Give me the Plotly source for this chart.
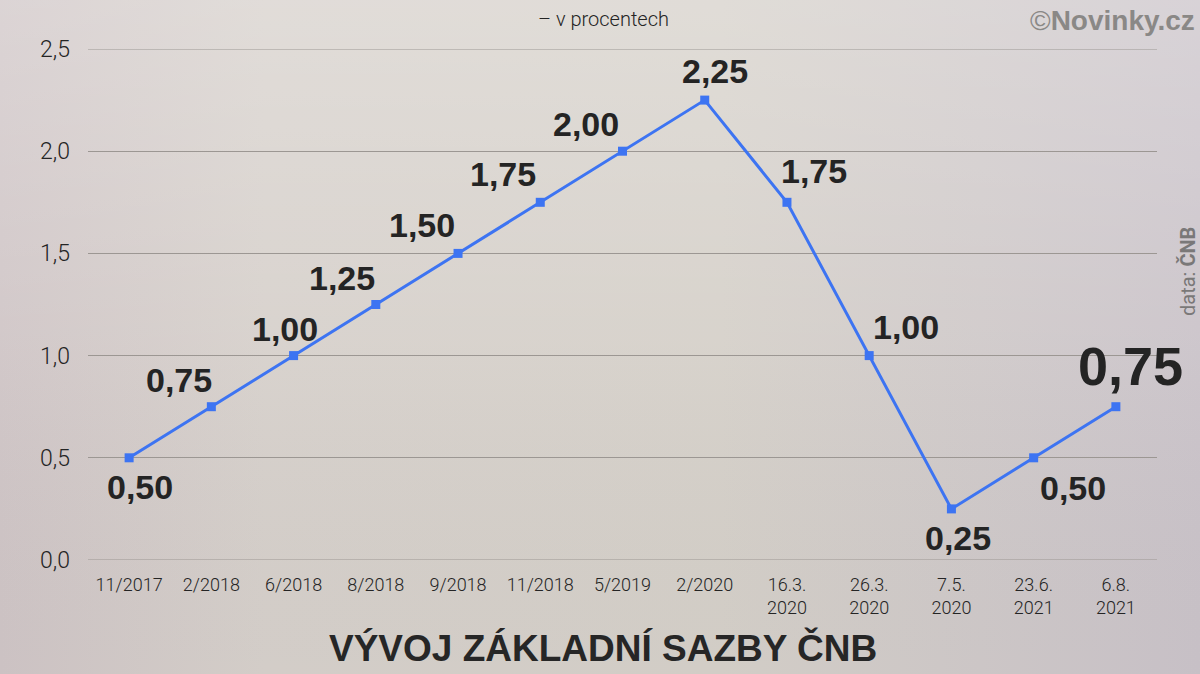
import base64
import plotly.graph_objects as go

categories = ["11/2017", "2/2018", "6/2018", "8/2018", "9/2018", "11/2018", "5/2019",
              "2/2020", "16.3.<br>2020", "26.3.<br>2020", "7.5.<br>2020", "23.6.<br>2021", "6.8.<br>2021"]
rates = [0.50, 0.75, 1.00, 1.25, 1.50, 1.75, 2.00, 2.25, 1.75, 1.00, 0.25, 0.50, 0.75]
rate_labels = ["0,50", "0,75", "1,00", "1,25", "1,50", "1,75", "2,00", "2,25", "1,75", "1,00", "0,25", "0,50", "0,75"]
y_ticks = [0.0, 0.5, 1.0, 1.5, 2.0, 2.5]

# label placement (pixel offsets from point)
label_dx = [11, -32, -9, -34, -36, -37, -37, 10, 27, 37, 7, 39, 15]
label_dy = [-29, 27, 27, 27, 28, 28, 27, 29, 31, 29, -29, -30, 41]

TEXT = "#242424"
FONT = "Liberation Sans"
GRID = "#9c9793"

fig = go.Figure()
fig.add_trace(go.Scatter(
    x=list(range(len(categories))), y=rates, mode="lines+markers",
    line=dict(color="#3d74f2", width=3),
    marker=dict(color="#3d74f2", size=9, symbol="square"),
    hoverinfo="skip", showlegend=False, cliponaxis=False,
))

annotations = []
for i, (v, lab) in enumerate(zip(rates, rate_labels)):
    last = i == len(rates) - 1
    annotations.append(dict(
        x=i, y=v, xref="x", yref="y", text="<b>%s</b>" % lab, showarrow=False,
        xshift=label_dx[i], yshift=label_dy[i],
        font=dict(family=FONT, size=54 if last else 34, color=TEXT),
    ))

annotations += [
    dict(text="– v procentech", x=603, y=674 - 19, xanchor="center", yanchor="middle",
         xref="paper", yref="paper", showarrow=False,
         font=dict(family="Roboto", size=20, color=TEXT, weight=300)),
    dict(text="<b>VÝVOJ ZÁKLADNÍ SAZBY ČNB</b>", x=603, y=674 - 648, xanchor="center", yanchor="middle",
         xref="paper", yref="paper", showarrow=False,
         font=dict(family=FONT, size=37, color="#262626")),
    dict(text="©<b>Novinky.cz</b>", x=1197, y=674 - 20, xanchor="right", yanchor="middle",
         xref="paper", yref="paper", showarrow=False,
         font=dict(family=FONT, size=28, color="#8a8886")),
    dict(text="data: <b>ČNB</b>", x=1188, y=674 - 272, xanchor="center", yanchor="middle",
         xref="paper", yref="paper", showarrow=False,
         textangle=-90, font=dict(family="Roboto", size=20, color="#7a7878")),
]

# convert pixel-based paper annotations to paper fractions
L, R, T, B = 88, 43, 49, 114
W, H = 1200, 674
pw, ph = W - L - R, H - T - B
for a in annotations:
    if a.get("xref") == "paper":
        a["x"] = (a["x"] - L) / pw
        a["y"] = (a["y"] - B) / ph

# soft background gradient (inline SVG, no network)
svg = f"""<svg xmlns='http://www.w3.org/2000/svg' width='{W}' height='{H}'>
<defs>
<linearGradient id='h' x1='0' y1='0' x2='1' y2='0'>
<stop offset='0' stop-color='#d0c6c7'/><stop offset='0.22' stop-color='#d7d1cc'/>
<stop offset='0.6' stop-color='#d6d1ca'/><stop offset='1' stop-color='#cbc4ca'/>
</linearGradient>
<linearGradient id='v' x1='0' y1='0' x2='0' y2='1'>
<stop offset='0' stop-color='#ffffff' stop-opacity='0.25'/><stop offset='0.5' stop-color='#ffffff' stop-opacity='0.05'/>
<stop offset='1' stop-color='#000000' stop-opacity='0.02'/>
</linearGradient>
</defs>
<rect width='{W}' height='{H}' fill='url(#h)'/><rect width='{W}' height='{H}' fill='url(#v)'/>
</svg>"""
bg_uri = "data:image/svg+xml;base64," + base64.b64encode(svg.encode()).decode()

shapes = [dict(type="line", xref="paper", yref="y", x0=0, x1=1, y0=yv, y1=yv,
               line=dict(color=GRID, width=1), layer="below")
          for yv in (y_ticks[0], y_ticks[-1])]

fig.update_layout(
    width=W, height=H,
    margin=dict(l=L, r=R, t=T, b=B),
    paper_bgcolor="#d6d0cb", plot_bgcolor="rgba(0,0,0,0)",
    separators=", ",
    annotations=annotations, shapes=shapes,
    images=[dict(source=bg_uri, xref="paper", yref="paper", x=-L / pw, y=(H - B) / ph,
                 sizex=W / pw, sizey=H / ph, xanchor="left", yanchor="top",
                 sizing="stretch", layer="below")],
    xaxis=dict(range=[-0.5, len(categories) - 0.5], tickmode="array",
               tickvals=list(range(len(categories))), ticktext=categories,
               showgrid=False, zeroline=False, showline=False, ticks="",
               ticklabelstandoff=12,
               tickfont=dict(family="Roboto", size=18, color=TEXT, weight=300)),
    yaxis=dict(range=[0, 2.5], tickmode="array", tickvals=y_ticks, tickformat=".1f",
               showgrid=True, gridcolor=GRID, gridwidth=1, zeroline=False,
               showline=False, ticks="", ticklabelstandoff=17,
               tickfont=dict(family="Roboto", size=23, color=TEXT, weight=300)),
    font=dict(family=FONT),
)

fig.write_html("out.html", config={"displayModeBar": False, "staticPlot": True},
               post_script="document.body.style.margin='0';document.body.style.background='#d6d0cb';")
